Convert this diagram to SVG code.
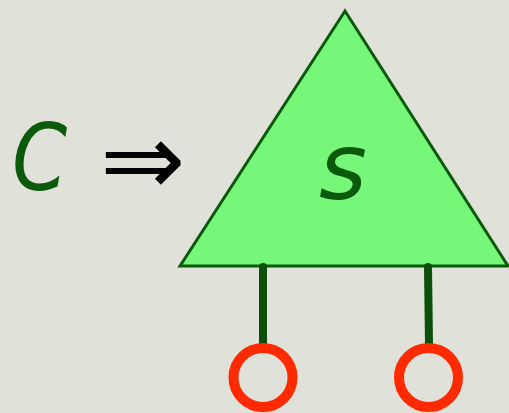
<svg xmlns="http://www.w3.org/2000/svg" width="509" height="413" viewBox="0 0 509 413">
<style>
.lbl{font-family:"DejaVu Sans",sans-serif;font-style:oblique;fill:#0b5a0b;font-size:92px}
.leg{stroke:#0b4f0b;stroke-width:8;stroke-linecap:round}
.port{fill:none;stroke:#ff2a00;stroke-width:10}
</style>
<rect width="509" height="413" fill="#e0e1d9"/>
<text class="lbl" transform="translate(12,190) scale(0.86,1)">C</text>
<text x="100" y="195" font-family="DejaVu Sans,sans-serif" font-size="102" fill="#000">⇒</text>
<g id="s">
<polygon points="345,11 180,266 508,266" fill="#77f77a" stroke="#0b5a0b" stroke-width="3" stroke-linejoin="miter"/>
<text class="lbl" x="343" y="199" text-anchor="middle">s</text>
</g>
<g id="connectors">
<line class="leg" x1="263" y1="267" x2="263" y2="345"/>
<line class="leg" x1="428" y1="267" x2="429" y2="345"/>
</g>
<g id="p1"><circle class="port" cx="263" cy="377.5" r="29.5"/></g>
<g id="p2"><circle class="port" cx="428.5" cy="377.5" r="29.5"/></g>
</svg>
